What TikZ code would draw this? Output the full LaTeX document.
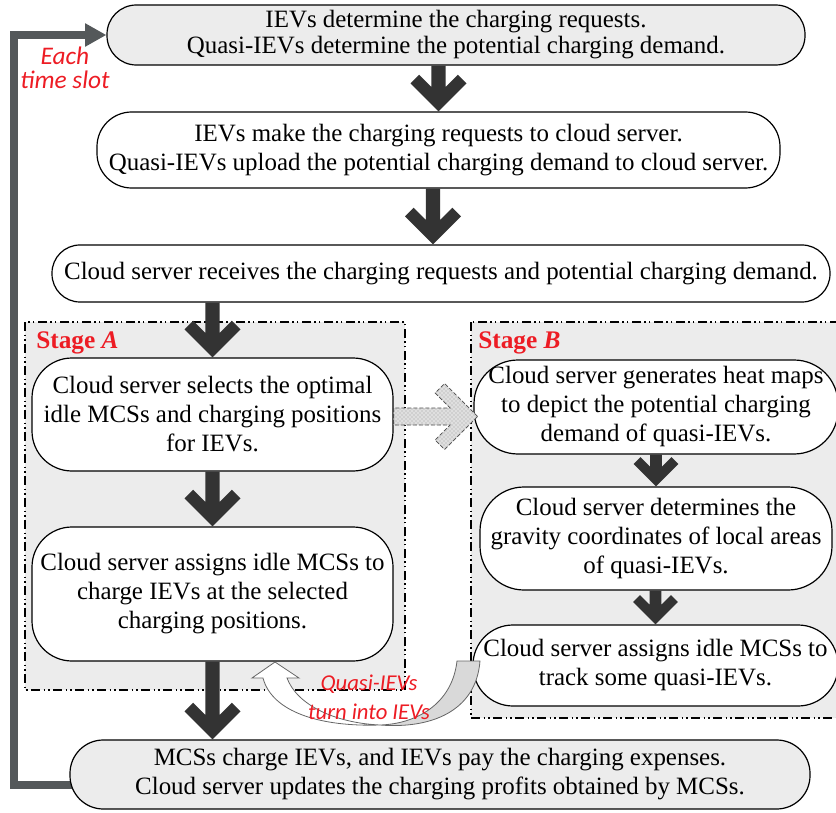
\documentclass[tikz,border=0pt]{standalone}
\usepackage{fontspec}
\setmainfont{Liberation Serif}
\newfontfamily\carlito{Carlito}
\usetikzlibrary{calc,arrows.meta,patterns}
\definecolor{lblred}{RGB}{237,28,36}
\definecolor{boxgray}{RGB}{236,236,236}
\definecolor{darkarrow}{RGB}{51,51,51}
\definecolor{loopgray}{RGB}{84,88,90}
\pgfdeclarelayer{background}
\pgfsetlayers{background,main}
% block arrow: #1 scale, #2 start (top), #3 tip (bottom)
\newcommand\blockarrow[3][1]{%
  \fill[darkarrow] let \p1=(#2), \p2=(#3) in
    (\x2,\y2) -- ++(21pt*#1,21pt*#1) -- ++(-6.5pt*#1,6.5pt*#1)
    -- (\x2+5.4pt*#1,\y2+18.4pt*#1) -- (\x2+5.4pt*#1,\y1) -- (\x2-5.4pt*#1,\y1)
    -- (\x2-5.4pt*#1,\y2+18.4pt*#1) -- (\x2-14.5pt*#1,\y2+27.5pt*#1)
    -- (\x2-21pt*#1,\y2+21pt*#1) -- cycle;}
\begin{document}
\begin{tikzpicture}[x=0.75pt,y=-0.75pt,
  mainfont/.style={font=\fontsize{18.7}{21.75}\selectfont},
  box/.style={draw=black, line width=0.9pt, align=center, inner sep=0pt, mainfont},
  gbox/.style={box, fill=boxgray},
  wbox/.style={box, fill=white},
  stageborder/.style={draw=black, line width=1.1pt,
    dash pattern=on 7pt off 2.5pt on 1pt off 2.5pt on 1pt off 2.5pt},
  loopline/.style={draw=loopgray, line width=6pt, line join=miter,
    -{Triangle[length=16pt,width=16.5pt]}},
  stagelabel/.style={anchor=base west, inner sep=0pt, text=lblred,
    font=\fontsize{19}{22}\selectfont\bfseries},
  redlabel/.style={align=center, inner sep=0pt, text=lblred}
]
\useasboundingbox (0,0) rectangle (836,813);

% boxes
\node[gbox, minimum width=523.5pt, minimum height=45pt, rounded corners=22pt,
  font=\fontsize{18.7}{19.5}\selectfont] (box1) at (456,35)
  {IEVs determine the charging requests.\\Quasi-IEVs determine the potential charging demand.};
\node[wbox, minimum width=512.25pt, minimum height=57pt, rounded corners=26pt] (box2) at (438.5,150)
  {IEVs make the charging requests to cloud server.\\Quasi-IEVs upload the potential charging demand to cloud server.};
\node[wbox, minimum width=583.5pt, minimum height=42.75pt, rounded corners=21pt] (box3) at (441,273.5)
  {Cloud server receives the charging requests and potential charging demand.};
\node[wbox, minimum width=270.75pt, minimum height=84.75pt, rounded corners=30pt] (A1) at (212.5,414.5)
  {Cloud server selects the optimal\\idle MCSs and charging positions\\for IEVs.};
\node[wbox, minimum width=270.75pt, minimum height=100.5pt, rounded corners=30pt] (A2) at (212.5,594)
  {Cloud server assigns idle MCSs to\\charge IEVs at the selected\\charging positions.};
\node[wbox, minimum width=273pt, minimum height=70.5pt, rounded corners=33pt] (B1) at (656,407)
  {Cloud server generates heat maps\\to depict the potential charging\\demand of quasi-IEVs.};
\node[wbox, minimum width=264pt, minimum height=77.25pt, rounded corners=33pt] (B2) at (656,538.5)
  {Cloud server determines the\\gravity coordinates of local areas\\of quasi-IEVs.};
\node[wbox, minimum width=273.75pt, minimum height=60.75pt, rounded corners=30pt] (B3) at (655.5,665.5)
  {Cloud server assigns idle MCSs to\\track some quasi-IEVs.};
\node[gbox, minimum width=555pt, minimum height=51.75pt, rounded corners=25pt] (bottom) at (440,774.5)
  {MCSs charge IEVs, and IEVs pay the charging expenses.\\Cloud server updates the charging profits obtained by MCSs.};

% stages and loop (behind)
\begin{pgfonlayer}{background}
  \fill[boxgray] (25,322) rectangle (405,690);
  \draw[stageborder] (25,322) rectangle (405,690);
  \fill[boxgray] (471,322) rectangle (842,718);
  \draw[stageborder] (471,322) rectangle (842,718);
  \draw[loopline] ($(bottom.west)+(10,10.5)$) -- ($(bottom.west)+(-55,10.5)$) |- (box1.west);
\end{pgfonlayer}

\node[stagelabel] (stA) at (36,348) {Stage \textit{A}};
\node[stagelabel] (stB) at (478,348) {Stage \textit{B}};

% block arrows
\blockarrow{box1.south}{box2.north}
\blockarrow{box2.south}{$(box3.north)+(-8,0)$}
\blockarrow{box3.south}{A1.north}
\blockarrow{A1.south}{A2.north}
\blockarrow{A2.south}{A2.south |- bottom.north}
\blockarrow[0.8]{B1.south}{B2.north}
\blockarrow[0.8]{B2.south}{B3.north}

% hatched arrow from stage A to stage B
\begin{scope}[shift={(A1.east)}]
  \path[fill=gray!25] (84,2) -- (51,-31) -- (41.5,-21.5) -- (56.5,-6.5) -- (0,-6.5)
     -- (0,10.5) -- (56.5,10.5) -- (41.5,25.5) -- (51,35) -- cycle;
  \path[pattern=crosshatch dots, pattern color=gray!75] (84,2) -- (51,-31) -- (41.5,-21.5) -- (56.5,-6.5) -- (0,-6.5)
     -- (0,10.5) -- (56.5,10.5) -- (41.5,25.5) -- (51,35) -- cycle;
  \draw[gray!60!black, line width=0.6pt, dash pattern=on 3pt off 1.5pt] (84,2) -- (51,-31) -- (41.5,-21.5) -- (56.5,-6.5) -- (0,-6.5)
     -- (0,10.5) -- (56.5,10.5) -- (41.5,25.5) -- (51,35) -- cycle;
\end{scope}

% curved arrow from B3 back to A2
\filldraw[fill=white, draw=gray!80!black, line width=0.6pt]
  (287,678) -- (299,678) -- (275,662) -- (252,678) -- (263,678)
  .. controls (272,712) and (320,727) .. (380,725)
  .. controls (335,723) and (297,705) .. (287,678) -- cycle;
\filldraw[fill=gray!30, draw=gray!80!black, line width=0.6pt]
  (380,725) .. controls (415,724) and (452,705) .. (457,661) -- (480,661)
  .. controls (476,712) and (430,729) .. (380,725) -- cycle;

% red labels
\node[redlabel, font=\carlito\itshape\fontsize{19}{18}\selectfont] (slot) at (65,68) {Each\\time slot};
\node[redlabel, font=\carlito\itshape\fontsize{17}{21.75}\selectfont] (turn) at (369,697) {Quasi-IEVs\\turn into IEVs};
\end{tikzpicture}
\end{document}
